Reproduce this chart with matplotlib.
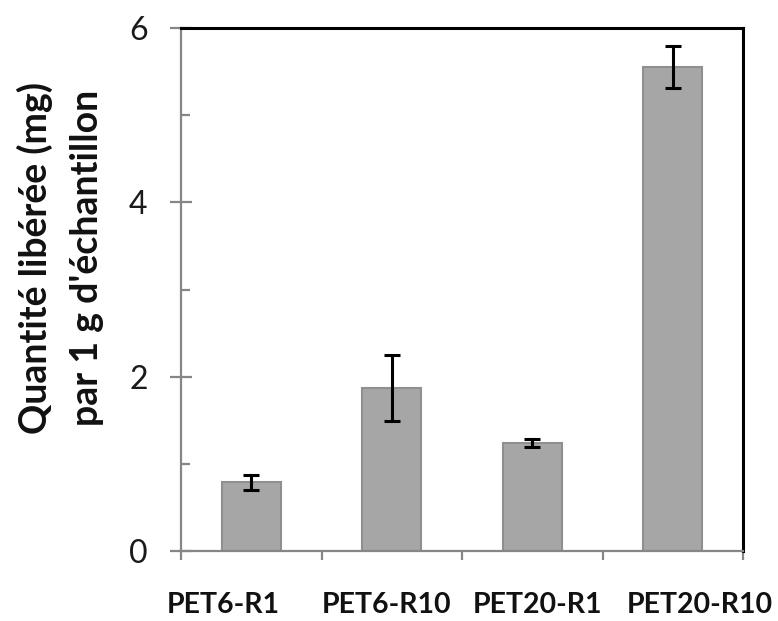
import matplotlib
matplotlib.use("Agg")
import matplotlib.pyplot as plt
import matplotlib.transforms as mtransforms
import numpy as np

categories = ["PET6-R1", "PET6-R10", "PET20-R1", "PET20-R10"]
values = [0.79, 1.87, 1.24, 5.55]
errors = [0.085, 0.38, 0.05, 0.24]
y_ticks = [0, 2, 4, 6]
y_minor_ticks = [1, 3, 5]
y_label = "Quantité libérée (mg)\npar 1 g d'échantillon"

plt.rcParams["font.family"] = ["Lato", "DejaVu Sans"]

fig = plt.figure(figsize=(7.78, 6.21), dpi=100)
ax = fig.add_axes([181 / 778, 1 - 551 / 621, (743 - 181) / 778, (551 - 28) / 621])

x = np.arange(len(categories))
ax.bar(x, values, width=0.42, color="#a6a6a6", edgecolor="#8f8f8f", linewidth=1.5, zorder=2)
ax.errorbar(x, values, yerr=errors, fmt="none", ecolor="black", elinewidth=2.2,
            capsize=6, capthick=2.2, zorder=3)

ax.set_xlim(-0.5, len(categories) - 0.5)
ax.set_ylim(0, 6)

# spines: grey left/bottom, black top/right
for side in ("left", "bottom"):
    ax.spines[side].set_color("#868686")
    ax.spines[side].set_linewidth(1.6)
for side in ("top", "right"):
    ax.spines[side].set_color("black")
    ax.spines[side].set_linewidth(2.2)

ax.set_yticks(y_ticks)
ax.set_yticklabels([str(v) for v in y_ticks])
ax.set_yticks(y_minor_ticks, minor=True)
ax.tick_params(axis="y", which="major", direction="inout", length=16, width=1.6,
               color="#868686", labelsize=23, pad=16, labelcolor="#1a1a1a")
ax.tick_params(axis="y", which="minor", direction="in", length=6.5, width=1.6,
               color="#868686")

# x ticks at category boundaries
bounds = np.arange(len(categories) + 1) - 0.5
ax.set_xticks(bounds)
ax.set_xticklabels([""] * len(bounds))
ax.tick_params(axis="x", which="major", direction="out", length=6.5, width=1.6,
               color="#868686")
ax.xaxis.get_major_ticks()[-1].tick1line.set_color("black")

# category labels under the axis
label_shift = [-0.20, -0.04, 0.035, 0.195]
trans = mtransforms.blended_transform_factory(ax.transData, ax.transAxes)
for xi, name, dx in zip(x, categories, label_shift):
    ax.text(xi + dx, -0.103, name, transform=trans, ha="center", va="center",
            fontsize=20.5, fontweight="bold", color="#111111")

fig.text(60 / 778, 1 - 258 / 621, y_label, rotation=90, ha="center", va="center",
         multialignment="center", fontsize=27, fontweight="bold", color="#111111",
         linespacing=1.6)

fig.savefig("out.png", dpi=100)
